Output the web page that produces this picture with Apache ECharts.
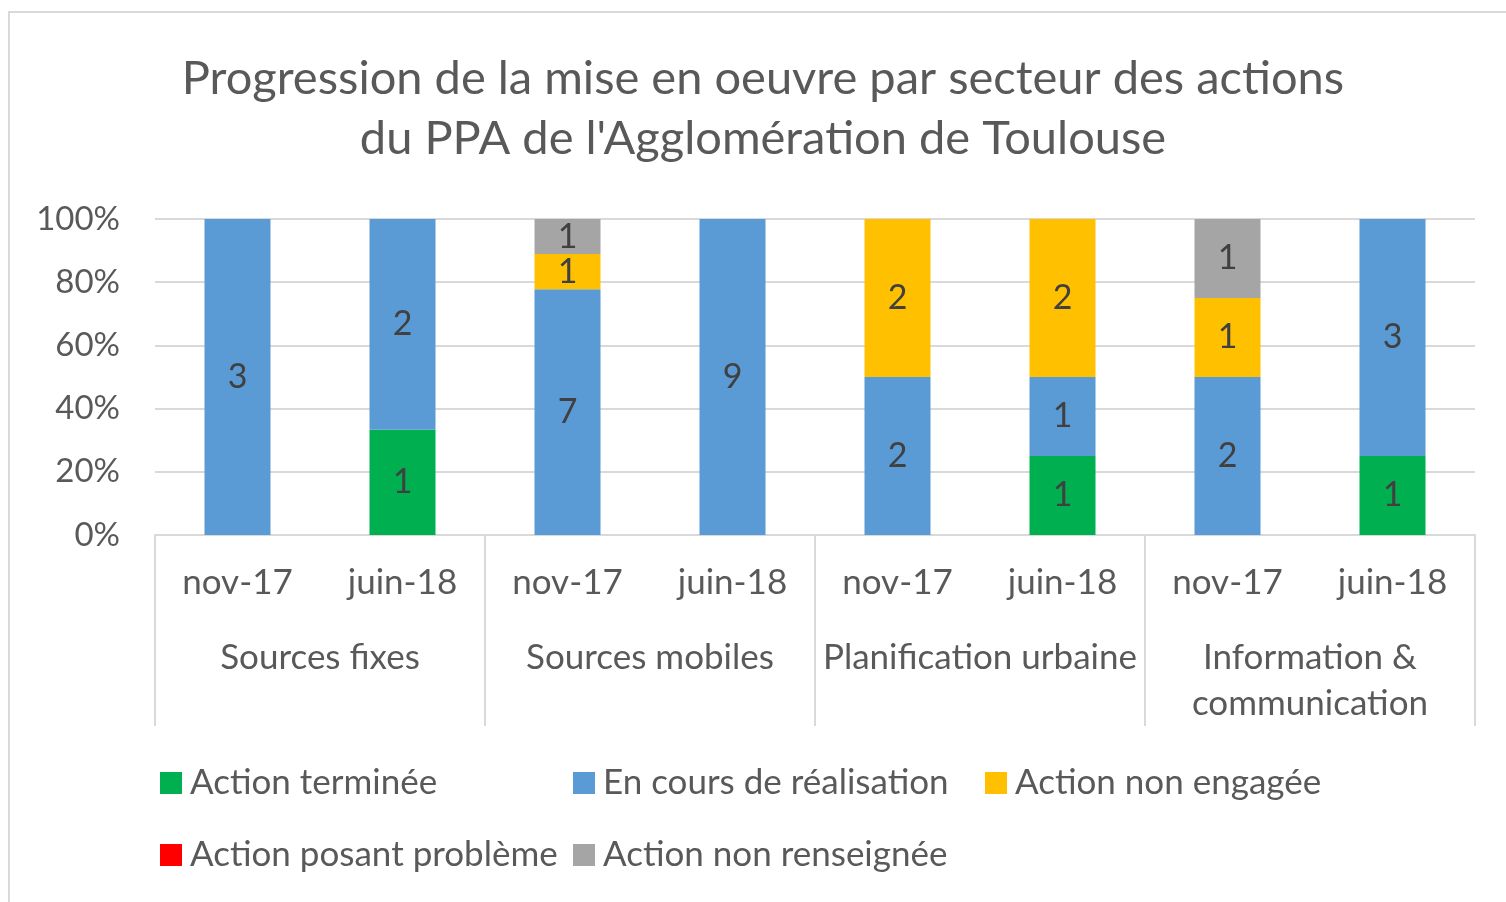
<!DOCTYPE html>
<html>
<head>
<meta charset="utf-8">
<script src="https://cdn.jsdelivr.net/npm/echarts@6/dist/echarts.min.js"></script>
<style>html,body{margin:0;padding:0;background:#fff}#c{width:1506px;height:902px}</style>
</head>
<body>
<div id="c"></div>
<script>
const titleText = "Progression de la mise en oeuvre par secteur des actions\ndu PPA de l'Agglomération de Toulouse";
const periods = ['nov-17', 'juin-18', 'nov-17', 'juin-18', 'nov-17', 'juin-18', 'nov-17', 'juin-18'];
const sectors = ['Sources fixes', 'Sources mobiles', 'Planification urbaine', 'Information &\ncommunication'];
const yTicks = [0, 20, 40, 60, 80, 100];
const seriesNames = ['Action terminée', 'En cours de réalisation', 'Action non engagée', 'Action posant problème', 'Action non renseignée'];
const terminee      = [0, 1, 0, 0, 0, 1, 0, 1];
const enCours       = [3, 2, 7, 9, 2, 1, 2, 3];
const nonEngagee    = [0, 0, 1, 0, 2, 2, 1, 0];
const probleme      = [0, 0, 0, 0, 0, 0, 0, 0];
const nonRenseignee = [0, 0, 1, 0, 0, 0, 1, 0];

const counts = [terminee, enCours, nonEngagee, probleme, nonRenseignee];
const colors = ['#00B050', '#5B9BD5', '#FFC000', '#FF0000', '#A5A5A5'];
const totals = periods.map((_, i) => counts.reduce((s, a) => s + a[i], 0));

const FONT = 'Lato';
const TXT = '#595959';

const series = counts.map((arr, k) => ({
  name: seriesNames[k],
  type: 'bar',
  stack: 'total',
  barWidth: '40%',
  itemStyle: { color: colors[k] },
  data: arr.map((v, i) => ({ value: v / totals[i] * 100, count: v })),
  label: {
    show: true,
    position: 'inside',
    fontFamily: FONT,
    fontSize: 34,
    color: '#404040',
    formatter: p => (p.data.count > 0 ? String(p.data.count) : '')
  }
}));

const legendPos = [
  { left: 160, top: 763 },
  { left: 573, top: 763 },
  { left: 985, top: 763 },
  { left: 160, top: 835 },
  { left: 573, top: 835 }
];
const legends = seriesNames.map((n, k) => ({
  data: [n],
  left: legendPos[k].left,
  top: legendPos[k].top,
  padding: 0,
  itemWidth: 22,
  itemHeight: 22,
  itemGap: 0,
  icon: 'rect',
  selectedMode: false,
  textStyle: { fontFamily: FONT, fontSize: 35, color: TXT, lineHeight: 40, padding: [0, 0, 0, 3] }
}));

const chart = echarts.init(document.getElementById('c'), null, { renderer: 'canvas' });
chart.setOption({
  animation: false,
  backgroundColor: '#fff',
  title: {
    text: titleText,
    left: 758,
    top: 44,
    textAlign: 'center',
    textStyle: { fontFamily: FONT, fontSize: 47, lineHeight: 60, color: TXT, fontWeight: 'normal' }
  },
  legend: legends,
  grid: { left: 155, right: 31, top: 219, bottom: 367, containLabel: false },
  xAxis: [
    {
      type: 'category',
      data: periods,
      axisLine: { show: true, lineStyle: { color: '#D9D9D9', width: 2 } },
      axisTick: { show: false },
      axisLabel: { fontFamily: FONT, fontSize: 35, color: TXT, margin: 28, lineHeight: 40, interval: 0 }
    },
    {
      type: 'category',
      data: sectors,
      position: 'bottom',
      axisLine: { show: false },
      axisTick: { show: true, length: 191, lineStyle: { color: '#D9D9D9', width: 2 } },
      axisLabel: { fontFamily: FONT, fontSize: 35, color: TXT, margin: 100, lineHeight: 46, interval: 0 }
    }
  ],
  yAxis: {
    type: 'value',
    min: 0,
    max: 100,
    interval: 20,
    axisLine: { show: false },
    axisTick: { show: false },
    splitLine: { lineStyle: { color: '#D9D9D9', width: 2 } },
    axisLabel: {
      fontFamily: FONT, fontSize: 33, color: TXT, margin: 35,
      formatter: v => (yTicks.indexOf(v) >= 0 ? v + '%' : '')
    }
  },
  series: series,
  graphic: [{
    type: 'rect',
    silent: true,
    shape: { x: 9, y: 12, width: 1520, height: 920 },
    style: { fill: 'none', stroke: '#D9D9D9', lineWidth: 2 }
  }]
});
</script>
</body>
</html>
